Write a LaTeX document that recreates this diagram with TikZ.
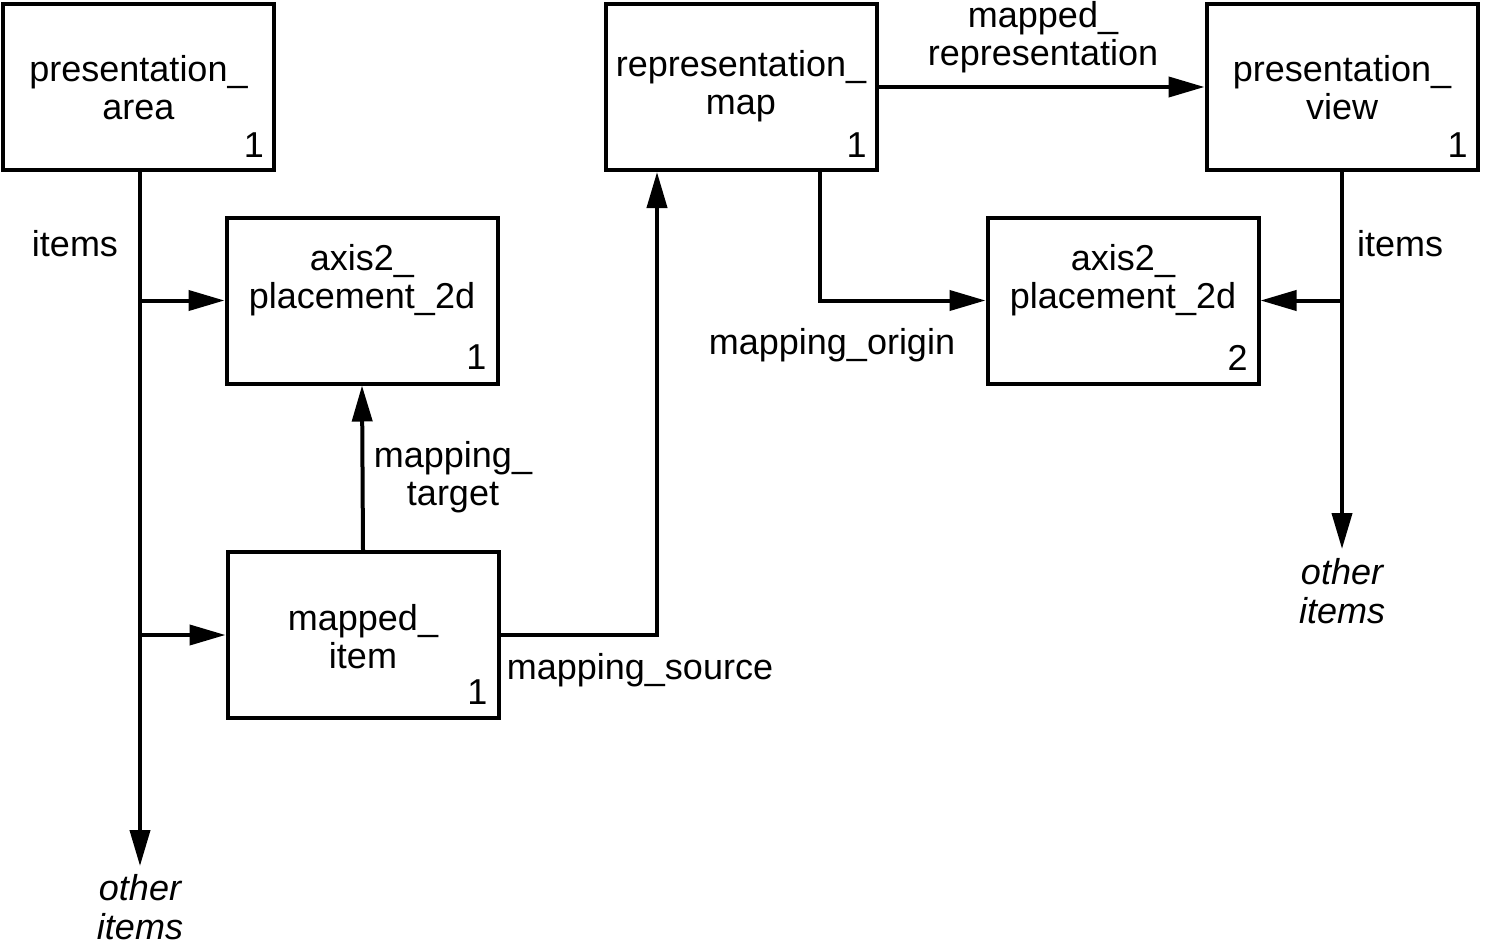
\documentclass[tikz,border=0pt]{standalone}
\usepackage{fontspec}
\setmainfont{Liberation Sans}
\usetikzlibrary{arrows.meta}
\begin{document}
\begin{tikzpicture}[x=0.5pt,y=-0.5pt,
  every node/.style={font=\fontsize{18}{19}\selectfont, inner sep=0pt},
  box/.style={draw, line width=2pt, rectangle, minimum width=135.5pt, minimum height=83pt},
  lbl/.style={align=center},
  num/.style={anchor=center},
  other/.style={align=center, font=\fontsize{18}{19.5}\selectfont\itshape},
  conn/.style={line width=2pt, -{Triangle[length=18pt,width=10pt]}},
  plain/.style={line width=2pt}]
\useasboundingbox (0,0) rectangle (1488,947);

% boxes
\node[box] (parea) at (138.5,87) {};
\node[lbl] (pareat) at (138.5,88) {presentation\_\\area};
\node[num] (pareaN) at ([shift={(-22,-27)}]parea.south east) {1};

\node[box] (axisA) at (362,300.5) {};
\node[lbl] (axisAt) at (362,280) {axis2\_\\placement\_2d};
\node[num] (axisAN) at ([shift={(-23,-28)}]axisA.south east) {1};

\node[box] (rmap) at (741,87) {};
\node[lbl] (rmapt) at (741,86) {representation\_\\map};
\node[num] (rmapN) at ([shift={(-22,-27)}]rmap.south east) {1};

\node[box] (pview) at (1342,87) {};
\node[lbl] (pviewt) at (1342,88) {presentation\_\\view};
\node[num] (pviewN) at ([shift={(-22,-27)}]pview.south east) {1};

\node[box] (axisB) at (1123,300.5) {};
\node[lbl] (axisBt) at (1123,280) {axis2\_\\placement\_2d};
\node[num] (axisBN) at ([shift={(-23,-28)}]axisB.south east) {2};

\node[box] (mitem) at (363,635) {};
\node[lbl] (mitemt) at (363,637) {mapped\_\\item};
\node[num] (mitemN) at ([shift={(-23,-28)}]mitem.south east) {1};

% labels
\node[lbl] (itemsL) at (75,244) {items};
\node[lbl] (itemsR) at (1400,244) {items};
\node[other] (otherL) at (140,907) {other\\items};
\node[other] (otherR) at (1342,591) {other\\items};
\node[lbl] (mtarget) at (453,477) {mapping\_\\target};
\node[lbl] (msource) at (640,670) {mapping\_source};
\node[lbl] (morigin) at (832,345) {mapping\_origin};
\node[lbl] (mrep) at (1043,37) {mapped\_\\representation};

% coordinates
\coordinate (endL) at (140,866);
\coordinate (srcC) at (657,635);
\coordinate (orgC) at (820,0);
\coordinate (endR) at (1342,549);

% connectors
\draw[conn] (parea.south -| endL) -- (endL);
\draw[conn] (endL |- axisA.west) -- (axisA.west);
\draw[conn] (endL |- mitem.west) -- (mitem.west);
\draw[conn] (mitem.north) -- (axisA.south);
\draw[conn] (mitem.east) -- (srcC) -- (srcC |- rmap.south);
\draw[conn] (rmap.east) -- (pview.west);
\draw[conn] (orgC |- rmap.south) |- (axisB.west);
\draw[conn] (pview.south) -- (endR);
\draw[conn] (endR |- axisB.east) -- (axisB.east);
\end{tikzpicture}
\end{document}
